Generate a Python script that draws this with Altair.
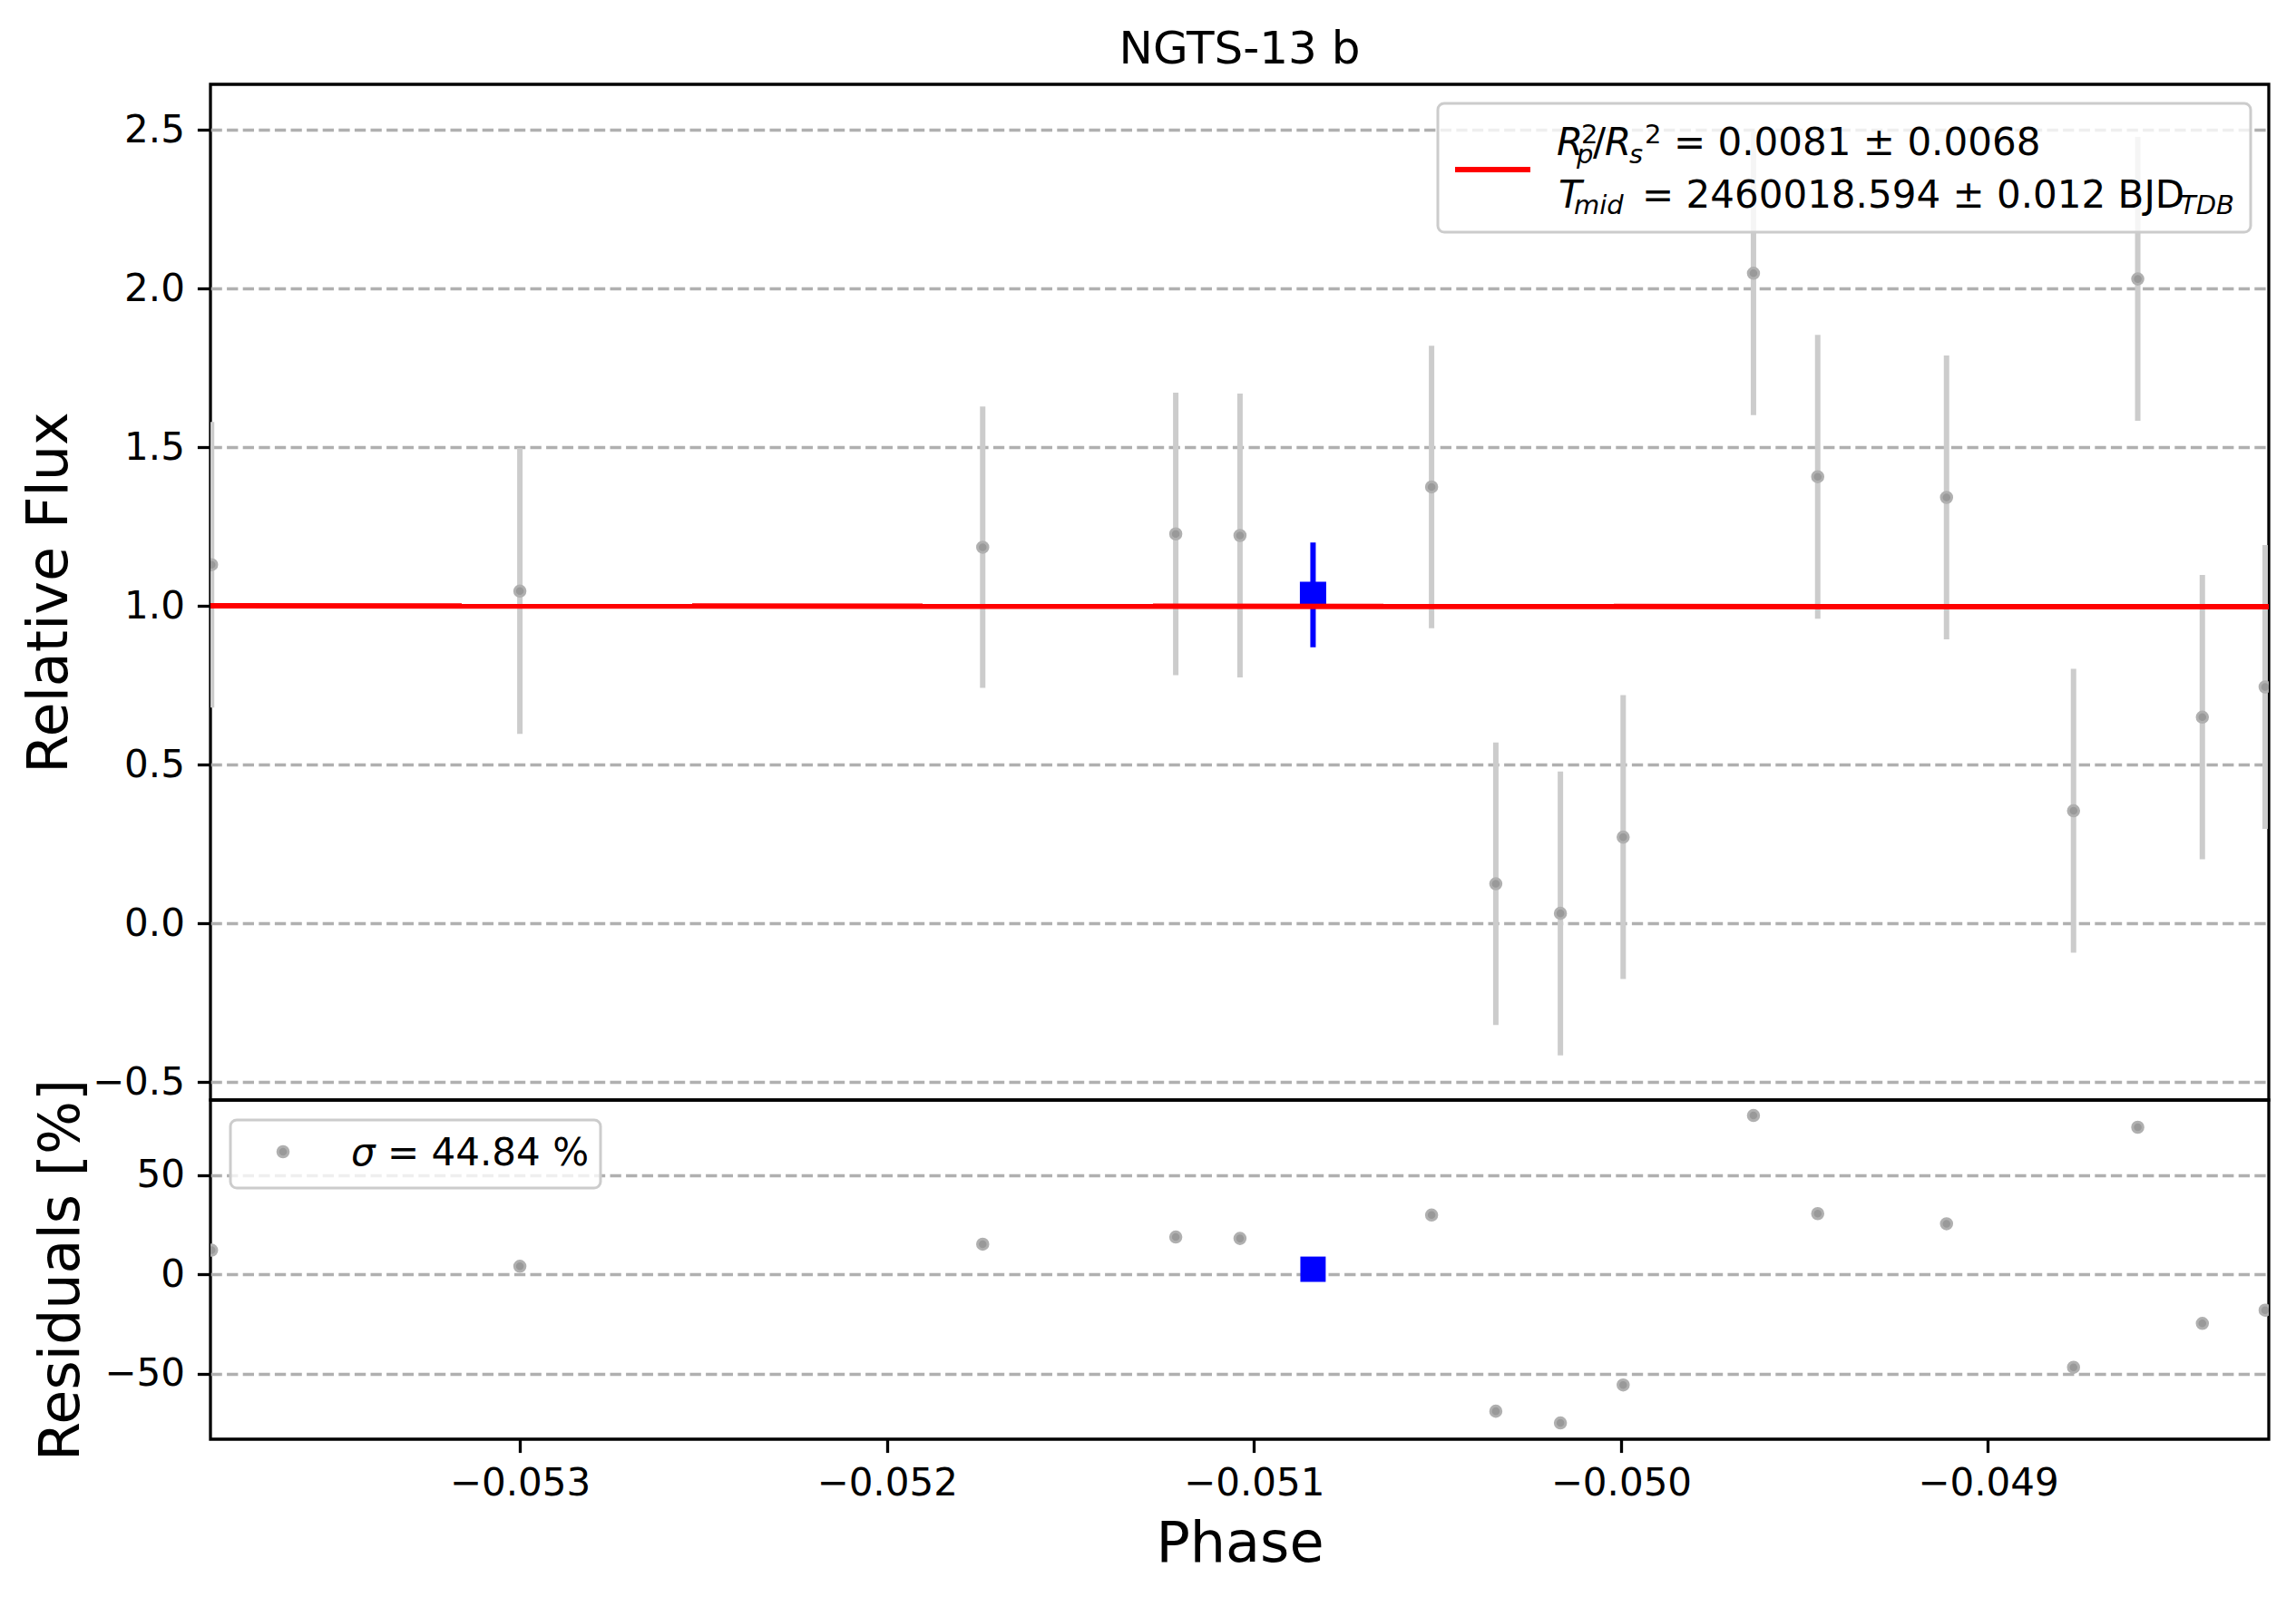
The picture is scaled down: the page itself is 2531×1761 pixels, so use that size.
import altair as alt
import pandas as pd

FONT = "DejaVu Sans"

# unbinned points (phase, relative flux, 1-sigma error, residual in %)
phase = [-0.05384, -0.05300, -0.051739, -0.051213, -0.051038, -0.050516, -0.050341,
         -0.050165, -0.049994, -0.049639, -0.049464, -0.049113, -0.048767, -0.048592,
         -0.048416, -0.048245]
flux = [1.13, 1.047, 1.185, 1.227, 1.222, 1.375, 0.125, 0.032, 0.272, 2.048, 1.407,
        1.342, 0.355, 2.03, 0.650, 0.745]
flux_err = [0.45, 0.45, 0.443, 0.445, 0.447, 0.445, 0.445, 0.447, 0.447, 0.447, 0.447,
            0.447, 0.447, 0.447, 0.448, 0.447]
resid = [12.3, 4.2, 15.3, 18.9, 18.2, 30.0, -68.8, -74.7, -55.6, 80.1, 30.7, 25.6,
         -46.7, 74.2, -24.6, -17.9]

# binned point
bin_phase = [-0.050839]
bin_flux = [1.035]
bin_err = [0.165]
bin_resid = [2.7]

# transit model across the window
model_phase = [-0.053843, -0.048235]
model_flux = [1.0005, 0.9975]

X_DOM = [-0.053843, -0.048235]
Y_DOM = [-0.556, 2.643]
R_DOM = [-82.9, 87.9]
W, H_MAIN, H_RES = 2269, 1120, 374

pts = pd.DataFrame({
    "phase": phase, "flux": flux, "resid": resid,
    "lo": [f - e for f, e in zip(flux, flux_err)],
    "hi": [f + e for f, e in zip(flux, flux_err)],
})
binned = pd.DataFrame({
    "phase": bin_phase, "flux": bin_flux, "resid": bin_resid,
    "lo": [f - e for f, e in zip(bin_flux, bin_err)],
    "hi": [f + e for f, e in zip(bin_flux, bin_err)],
})
model = pd.DataFrame({"phase": model_phase, "flux": model_flux})
one = pd.DataFrame({"k": [0]})

x_main = alt.X("phase:Q", scale=alt.Scale(domain=X_DOM, nice=False, zero=False), axis=None)
x_res = alt.X("phase:Q", scale=alt.Scale(domain=X_DOM, nice=False, zero=False),
              axis=alt.Axis(values=[-0.053, -0.052, -0.051, -0.050, -0.049], format=".3f",
                            title="Phase", grid=False, labelPadding=14, titlePadding=16))


def y_main(field):
    return alt.Y(f"{field}:Q", scale=alt.Scale(domain=Y_DOM, nice=False, zero=False),
                 axis=alt.Axis(values=[-0.5, 0, 0.5, 1, 1.5, 2, 2.5], format=".1f",
                               title="Relative Flux", titleX=-178, titleY=H_MAIN / 2,
                               titleAngle=270, titleBaseline="middle"))


def y_res(field):
    return alt.Y(f"{field}:Q", scale=alt.Scale(domain=R_DOM, nice=False, zero=False),
                 axis=alt.Axis(values=[-50, 0, 50], format="d",
                               title="Residuals [%]", titleX=-165, titleY=H_RES / 2,
                               titleAngle=270, titleBaseline="middle"))


def txt(s, x, y, size=42, italic=False):
    return alt.Chart(one).mark_text(
        text=s, font=FONT, fontSize=size, fontStyle="italic" if italic else "normal",
        align="left", baseline="alphabetic", color="black",
    ).encode(x=alt.value(x), y=alt.value(y))


def gray_dots(df, yfield, yenc):
    return alt.Chart(df).mark_circle(
        color="#999999", size=133, opacity=1, stroke="#b0b0b0", strokeWidth=3, clip=True
    ).encode(x=x_main if yenc is y_main else x_res, y=yenc(yfield))


# ---- main panel
errbars = alt.Chart(pts).mark_rule(color="#cccccc", strokeWidth=6, clip=True).encode(
    x=x_main, y=y_main("lo"), y2="hi:Q")
dots = gray_dots(pts, "flux", y_main)
bin_bar = alt.Chart(binned).mark_rule(color="#0000ff", strokeWidth=6, clip=True).encode(
    x=x_main, y=y_main("lo"), y2="hi:Q")
bin_sq = alt.Chart(binned).mark_square(color="#0000ff", size=841, opacity=1, clip=True).encode(
    x=x_main, y=y_main("flux"))
model_line = alt.Chart(model).mark_line(color="#ff0000", strokeWidth=6, clip=True).encode(
    x=x_main, y=y_main("flux"))

leg_box = alt.Chart(one).mark_rect(
    fill="white", fillOpacity=0.8, stroke="#cccccc", strokeWidth=3, cornerRadius=7
).encode(x=alt.value(1353), x2=alt.value(2249), y=alt.value(21), y2=alt.value(163))
leg_handle = alt.Chart(one).mark_rule(color="#ff0000", strokeWidth=6).encode(
    x=alt.value(1372), x2=alt.value(1455), y=alt.value(94))
leg_text = [
    txt("R", 1484, 78, italic=True),
    txt("p", 1506, 87, 29, italic=True),
    txt("2", 1511, 65, 29),
    txt("/", 1524, 78),
    txt("R", 1537, 78, italic=True),
    txt("s", 1564, 87, 29, italic=True),
    txt("2", 1581, 65, 29),
    txt("= 0.0081 ± 0.0068", 1613, 78),
    txt("T", 1486, 136, italic=True),
    txt("mid", 1503, 143, 29, italic=True),
    txt("= 2460018.594 ± 0.012 BJD", 1578, 136),
    txt("TDB", 2171, 143, 29, italic=True),
]

main = alt.layer(errbars, dots, bin_bar, bin_sq, model_line, leg_box, leg_handle,
                 *leg_text).properties(
    width=W, height=H_MAIN,
    title=alt.TitleParams("NGTS-13 b", font=FONT, fontSize=50, fontWeight="normal",
                          color="black", anchor="middle", frame="group",
                          baseline="bottom", offset=-37),
)

# ---- residual panel
res_dots = gray_dots(pts, "resid", y_res)
res_bin = alt.Chart(binned).mark_square(color="#0000ff", size=780, opacity=1, clip=True).encode(
    x=x_res, y=y_res("resid"))
res_box = alt.Chart(one).mark_rect(
    fill="white", fillOpacity=0.8, stroke="#cccccc", strokeWidth=3, cornerRadius=7
).encode(x=alt.value(22), x2=alt.value(430), y=alt.value(22), y2=alt.value(97))
res_marker = alt.Chart(one).mark_circle(
    color="#999999", size=133, opacity=1, stroke="#b0b0b0", strokeWidth=3
).encode(x=alt.value(80), y=alt.value(57))
res_text = [txt("σ", 155, 72, italic=True), txt("= 44.84 %", 195, 72)]

res = alt.layer(res_dots, res_bin, res_box, res_marker, *res_text).properties(
    width=W, height=H_RES)

chart = alt.vconcat(main, res, spacing=0, bounds="flush").properties(
    padding={"left": 13, "top": 20, "right": 10, "bottom": 10},
).configure_view(stroke="black", strokeWidth=3.3).configure_axis(
    domain=False, tickColor="black", tickWidth=3.3, tickSize=14.6,
    labelFont=FONT, labelFontSize=42, labelColor="black", labelPadding=14,
    titleFont=FONT, titleFontSize=62, titleFontWeight="normal", titleColor="black",
    gridColor="#b0b0b0", gridDash=[12.3, 5.3], gridWidth=3.3,
).configure_axisX(grid=False)

chart.save("out.html", embed_options={"renderer": "svg", "actions": False})
